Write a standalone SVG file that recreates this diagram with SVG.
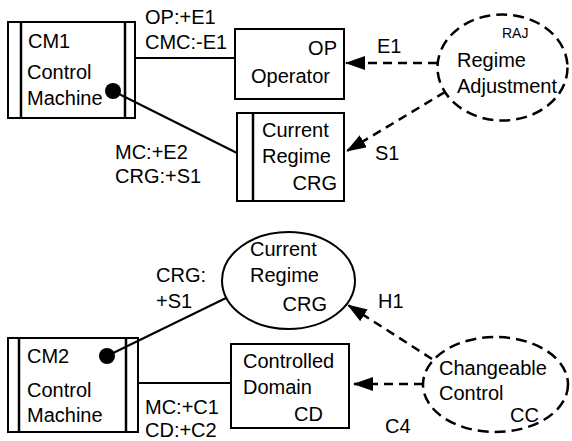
<svg xmlns="http://www.w3.org/2000/svg" width="572" height="441" viewBox="0 0 572 441">
<style>
  text { font-family: "Liberation Sans", Arial, sans-serif; font-size: 20px; fill: #000; }
  .small { font-size: 14px; }
  .box { fill: #fff; stroke: #000; stroke-width: 2; }
  .bar { stroke: #000; stroke-width: 2.5; }
  .line { stroke: #000; stroke-width: 2; fill: none; }
  .dash { stroke: #000; stroke-width: 2.5; fill: none; stroke-dasharray: 9 6; }
  .dashell { fill: #fff; stroke: #000; stroke-width: 2.5; stroke-dasharray: 11 6; }
  .r { text-anchor: end; }
</style>
<defs>
  <marker id="arr" viewBox="0 0 20 14" refX="19" refY="7" markerWidth="20" markerHeight="14" markerUnits="userSpaceOnUse" orient="auto">
    <path d="M0,0 L20,7 L0,14 z" fill="#000"/>
  </marker>
</defs>

<g id="CM1">
  <rect class="box" x="8" y="22" width="127" height="96"/>
  <line class="bar" x1="21" y1="22" x2="21" y2="118"/>
  <line class="bar" x1="125" y1="22" x2="125" y2="118"/>
  <text x="28" y="48">CM1</text>
  <text x="27" y="79">Control</text>
  <text x="27" y="105">Machine</text>
</g>

<g id="OP">
  <rect class="box" x="235" y="29" width="109" height="70"/>
  <text class="r" x="337" y="55">OP</text>
  <text x="251" y="83">Operator</text>
</g>

<g id="CRG1">
  <rect class="box" x="237" y="113" width="107" height="88"/>
  <line class="bar" x1="253" y1="113" x2="253" y2="201"/>
  <text x="262" y="137">Current</text>
  <text x="262" y="163">Regime</text>
  <text class="r" x="337" y="190">CRG</text>
</g>

<g id="RAJ">
  <ellipse class="dashell" cx="502.5" cy="67.5" rx="65" ry="53"/>
  <text class="small" x="502" y="38">RAJ</text>
  <text x="457" y="67">Regime</text>
  <text x="457" y="93">Adjustment</text>
</g>

<g id="CRG2">
  <ellipse class="box" cx="288.5" cy="280.5" rx="66.5" ry="48.5"/>
  <text x="250" y="256">Current</text>
  <text x="250" y="282">Regime</text>
  <text class="r" x="327" y="311">CRG</text>
</g>

<g id="CM2">
  <rect class="box" x="8" y="338" width="130" height="94"/>
  <line class="bar" x1="19" y1="338" x2="19" y2="432"/>
  <line class="bar" x1="126" y1="338" x2="126" y2="432"/>
  <text x="27" y="363">CM2</text>
  <text x="27" y="397">Control</text>
  <text x="27" y="422">Machine</text>
</g>

<g id="CD">
  <rect class="box" x="231" y="344" width="118" height="84"/>
  <text x="243" y="368">Controlled</text>
  <text x="243" y="394">Domain</text>
  <text class="r" x="323" y="421">CD</text>
</g>

<g id="CC">
  <ellipse class="dashell" cx="495.5" cy="384.5" rx="72.5" ry="47.5"/>
  <text x="439" y="375">Changeable</text>
  <text x="439" y="400">Control</text>
  <text x="510" y="422">CC</text>
</g>

<g id="connectors">
  <line class="line" x1="135" y1="58" x2="235" y2="58"/>
  <line class="line" x1="113" y1="91" x2="237" y2="153"/>
  <circle cx="113" cy="91" r="8" fill="#000"/>
  <line class="dash" x1="437" y1="63" x2="346" y2="63" marker-end="url(#arr)"/>
  <line class="dash" x1="445" y1="92" x2="347" y2="151" marker-end="url(#arr)"/>
  <line class="line" x1="107" y1="356" x2="226" y2="298"/>
  <circle cx="107" cy="356" r="8" fill="#000"/>
  <line class="line" x1="138" y1="383" x2="231" y2="383"/>
  <line class="dash" x1="432" y1="359" x2="348" y2="305" marker-end="url(#arr)"/>
  <line class="dash" x1="423" y1="384" x2="354" y2="384" marker-end="url(#arr)"/>
  <text x="145" y="24">OP:+E1</text>
  <text x="145" y="49">CMC:-E1</text>
  <text x="115" y="159">MC:+E2</text>
  <text x="115" y="183">CRG:+S1</text>
  <text x="377" y="53">E1</text>
  <text x="375" y="160">S1</text>
  <text x="156" y="282">CRG:</text>
  <text x="156" y="308">+S1</text>
  <text x="145" y="414">MC:+C1</text>
  <text x="145" y="437">CD:+C2</text>
  <text x="378" y="308">H1</text>
  <text x="385" y="433">C4</text>
</g>
</svg>
